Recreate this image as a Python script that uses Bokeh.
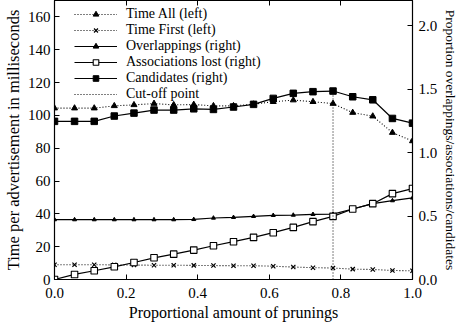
from bokeh.plotting import figure
from bokeh.models import (Range1d, LinearAxis, Legend, LegendItem, FixedTicker,
                          CustomJSTickFormatter, PrintfTickFormatter)
from bokeh.embed import file_html
from bokeh.resources import INLINE

# ---- data ----
prop = [0.0, 0.056, 0.111, 0.167, 0.222, 0.278, 0.333, 0.389, 0.444, 0.5,
        0.556, 0.611, 0.667, 0.722, 0.778, 0.833, 0.889, 0.944, 1.0]
time_all = [104.4, 104.4, 104.4, 105.8, 106.4, 107.2, 106.4, 106.6, 105.8, 105.8,
            106.8, 108.3, 109.3, 108.3, 107.2, 101.7, 99.5, 89.5, 84.4]
time_first = [9.0, 9.0, 9.0, 8.9, 8.8, 8.7, 8.7, 8.6, 8.5, 8.4,
              8.4, 8.1, 7.6, 7.2, 7.0, 6.3, 6.1, 5.5, 5.3]
overlappings = [0.472, 0.472, 0.472, 0.472, 0.472, 0.472, 0.472, 0.474, 0.485, 0.49,
                0.498, 0.506, 0.508, 0.514, 0.516, 0.556, 0.598, 0.622, 0.643]
assoc_lost = [0.0, 0.04, 0.069, 0.10, 0.134, 0.171, 0.20, 0.232, 0.266, 0.298,
              0.332, 0.369, 0.411, 0.456, 0.498, 0.556, 0.598, 0.677, 0.717]
candidates = [1.247, 1.247, 1.247, 1.289, 1.312, 1.336, 1.336, 1.346, 1.341, 1.36,
              1.381, 1.428, 1.468, 1.481, 1.486, 1.441, 1.417, 1.27, 1.233]
cutoff_x = 0.778
cutoff_top = 1.486

x_ticks = [0.0, 0.2, 0.4, 0.6, 0.8, 1.0]
left_ticks = [0, 20, 40, 60, 80, 100, 120, 140, 160]
right_ticks = [0.0, 0.5, 1.0, 1.5, 2.0]

labels = ["Time All (left)", "Time First (left)", "Overlappings (right)",
          "Associations lost (right)", "Candidates (right)", "Cut-off point"]

FONT = "Liberation Serif"
FS = "15px"
FH = 279

p = figure(frame_width=358, frame_height=FH,
           x_range=Range1d(0, 1), y_range=Range1d(0, 170),
           output_backend="svg", toolbar_location=None,
           min_border_left=47, min_border_right=0, min_border_top=0, min_border_bottom=0)
p.extra_y_ranges = {"right": Range1d(0, 2.2)}
p.grid.visible = False
p.outline_line_color = "black"
p.outline_line_width = 1.2
p.background_fill_color = "white"
p.border_fill_color = "white"


def style_axis(ax):
    ax.major_tick_in = 5
    ax.major_tick_out = 0
    ax.minor_tick_line_color = None
    ax.axis_line_color = "black"
    ax.major_tick_line_color = "black"
    ax.major_label_text_font = FONT
    ax.major_label_text_font_size = FS
    ax.major_label_text_color = "black"
    ax.axis_label_text_font = FONT
    ax.axis_label_text_font_size = FS
    ax.axis_label_text_font_style = "normal"
    ax.axis_label_text_color = "black"


xa = p.xaxis[0]
xa.ticker = FixedTicker(ticks=x_ticks)
xa.formatter = PrintfTickFormatter(format="%.1f")
xa.axis_label = "Proportional amount of prunings"
style_axis(xa)
xa.axis_label_text_font_size = "16px"
xa.major_label_standoff = 8
xa.axis_label_standoff = 3

ya = p.yaxis[0]
ya.ticker = FixedTicker(ticks=left_ticks)
ya.axis_label = "Time per advertisement in milliseconds"
style_axis(ya)
ya.axis_label_text_font_size = "16.5px"
ya.major_label_standoff = 4
ya.axis_label_standoff = 2

ra = LinearAxis(y_range_name="right", ticker=FixedTicker(ticks=right_ticks),
                formatter=PrintfTickFormatter(format="%.1f"),
                axis_label="Proportion overlappings/associations/candidates")
style_axis(ra)
ra.axis_label_text_font_size = "13.5px"
ra.major_label_standoff = 6
ra.axis_label_standoff = 3
p.add_layout(ra, "right")

ta = LinearAxis(ticker=FixedTicker(ticks=x_ticks),
                formatter=CustomJSTickFormatter(code="return ''"))
style_axis(ta)
ta.major_label_standoff = 0
ta.major_label_text_font_size = "1px"
p.add_layout(ta, "above")

# ---- series ----
r1l = p.line(prop, time_all, line_color="black", line_width=1.1, line_dash="1 2")
r1m = p.scatter(prop, time_all, marker="triangle", size=6, fill_color="black", line_color="black")

r2l = p.line(prop, time_first, line_color="black", line_width=1.1, line_dash="1 2")
r2m = p.scatter(prop, time_first, marker="x", size=6, line_color="black", line_width=1.2)

r3l = p.line(prop, overlappings, y_range_name="right", line_color="black", line_width=1.2)
r3m = p.scatter(prop, overlappings, y_range_name="right", marker="triangle", size=4,
                fill_color="black", line_color="black")

r4l = p.line(prop, assoc_lost, y_range_name="right", line_color="black", line_width=1.2)
r4m = p.scatter(prop, assoc_lost, y_range_name="right", marker="square", size=6.5,
                fill_color="white", line_color="black", line_width=1.1)

r5l = p.line(prop, candidates, y_range_name="right", line_color="black", line_width=1.2)
r5m = p.scatter(prop, candidates, y_range_name="right", marker="square", size=6.5,
                fill_color="black", line_color="black")

r6 = p.segment(x0=[cutoff_x], y0=[0], x1=[cutoff_x], y1=[cutoff_top], y_range_name="right",
               line_color="black", line_width=1, line_dash="1 2")

items = [LegendItem(label=labels[0], renderers=[r1l, r1m]),
         LegendItem(label=labels[1], renderers=[r2l, r2m]),
         LegendItem(label=labels[2], renderers=[r3l, r3m]),
         LegendItem(label=labels[3], renderers=[r4l, r4m]),
         LegendItem(label=labels[4], renderers=[r5l, r5m]),
         LegendItem(label=labels[5], renderers=[r6])]

ROW = 16
legend = Legend(items=items, location=(20, FH - 6 - 6 * ROW),
                glyph_width=43, glyph_height=14, label_height=ROW,
                label_text_font=FONT, label_text_font_size="14px", label_text_color="black",
                label_standoff=9, spacing=0, padding=0, margin=0,
                background_fill_alpha=0, border_line_alpha=0)
p.add_layout(legend, "center")

open("out.html", "w").write(file_html(p, INLINE))
